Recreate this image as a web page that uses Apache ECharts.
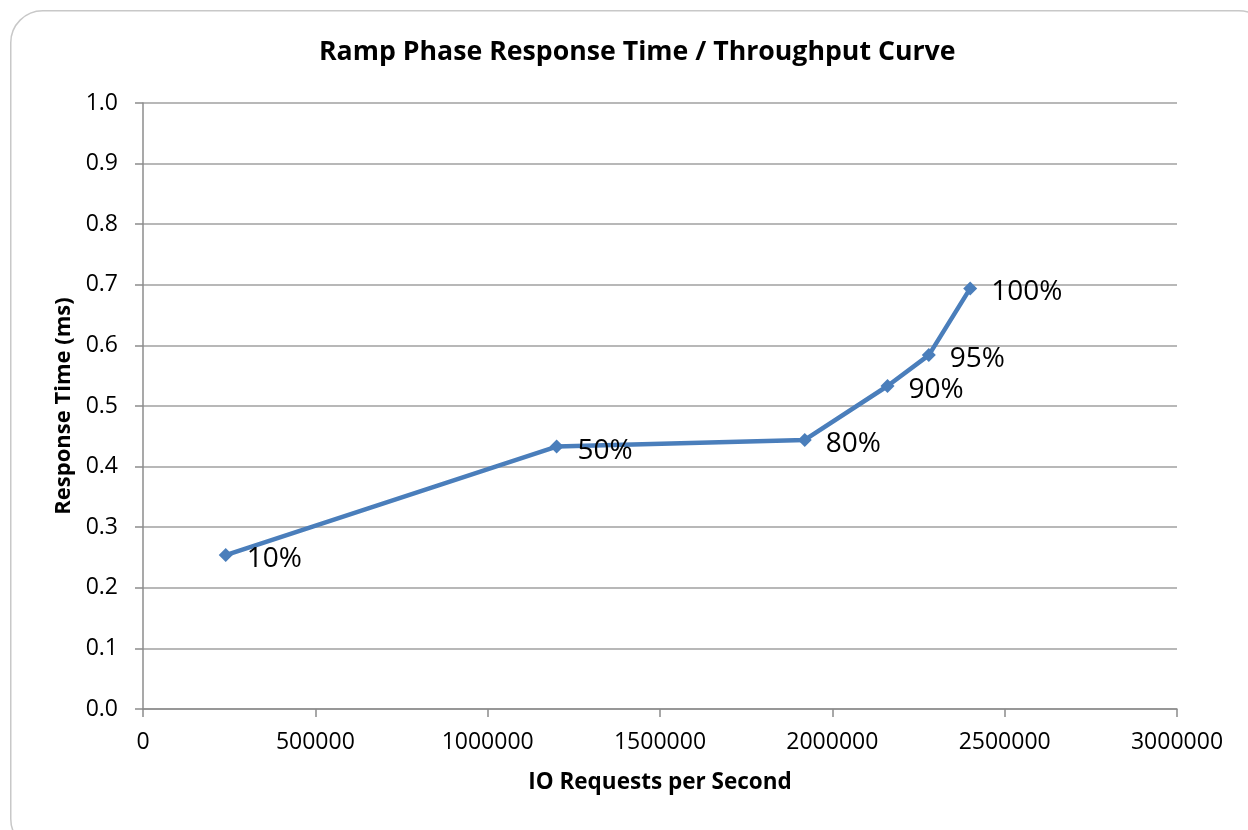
<!DOCTYPE html>
<html>
<head>
<meta charset="utf-8">
<script src="https://cdn.jsdelivr.net/npm/echarts@6/dist/echarts.min.js"></script>
<style>
html,body{margin:0;padding:0;background:#fff;}
#c{width:1248px;height:830px;}
</style>
</head>
<body>
<div id="c"></div>
<script>
var loadLabels = ['10%', '50%', '80%', '90%', '95%', '100%'];
var iops = [240000, 1200000, 1920000, 2160000, 2280000, 2400000];
var respMs = [0.254, 0.433, 0.444, 0.533, 0.584, 0.694];

var FONT = '"Open Sans", "DejaVu Sans", sans-serif';
var chart = echarts.init(document.getElementById('c'), null, {renderer: 'canvas'});
var pts = iops.map(function (x, i) { return {value: [x, respMs[i]], label: {formatter: loadLabels[i]}}; });

chart.setOption({
  backgroundColor: '#fff',
  animation: false,
  graphic: [{
    type: 'rect', left: 10, top: 10, z: -1,
    shape: {width: 1260, height: 840, r: 32},
    style: {fill: '#fff', stroke: '#c8c8c8', lineWidth: 1.5}
  }],
  title: {
    text: 'Ramp Phase Response Time / Throughput Curve',
    left: 314, top: 34,
    textStyle: {fontFamily: FONT, fontWeight: 'bold', fontSize: 26.7, color: '#000'}
  },
  grid: {left: 143, right: 71, top: 103, bottom: 121, containLabel: false},
  xAxis: {
    type: 'value', min: 0, max: 3000000, interval: 500000,
    name: 'IO Requests per Second', nameLocation: 'middle', nameGap: 62,
    nameTextStyle: {fontFamily: FONT, fontWeight: 'bold', fontSize: 22.5, color: '#000'},
    axisLine: {show: true, lineStyle: {color: '#8c8c8c', width: 1.5}},
    axisTick: {show: true, length: 8, lineStyle: {color: '#8c8c8c', width: 1.5}},
    axisLabel: {fontFamily: FONT, fontSize: 23, color: '#000', margin: 22,
      formatter: function (v) { return String(v); }},
    splitLine: {show: false}
  },
  yAxis: {
    type: 'value', min: 0, max: 1.0, interval: 0.1,
    name: 'Response Time (ms)', nameLocation: 'middle', nameGap: 68, nameRotate: 90,
    nameTextStyle: {fontFamily: FONT, fontWeight: 'bold', fontSize: 22, color: '#000'},
    axisLine: {show: true, lineStyle: {color: '#8c8c8c', width: 1.5}},
    axisTick: {show: true, length: 8, lineStyle: {color: '#8c8c8c', width: 1.5}},
    axisLabel: {fontFamily: FONT, fontSize: 23, color: '#000', margin: 25,
      formatter: function (v) { return v.toFixed(1); }},
    splitLine: {show: true, lineStyle: {color: '#a0a0a0', width: 1.5}}
  },
  series: [{
    type: 'line',
    data: pts,
    symbol: 'diamond', symbolSize: 14,
    lineStyle: {color: '#4a7ebb', width: 4.5},
    itemStyle: {color: '#4a7ebb'},
    label: {show: true, position: 'right', distance: 14, offset: [0, 4],
      fontFamily: FONT, fontSize: 28, color: '#000'}
  }]
});
</script>
</body>
</html>
